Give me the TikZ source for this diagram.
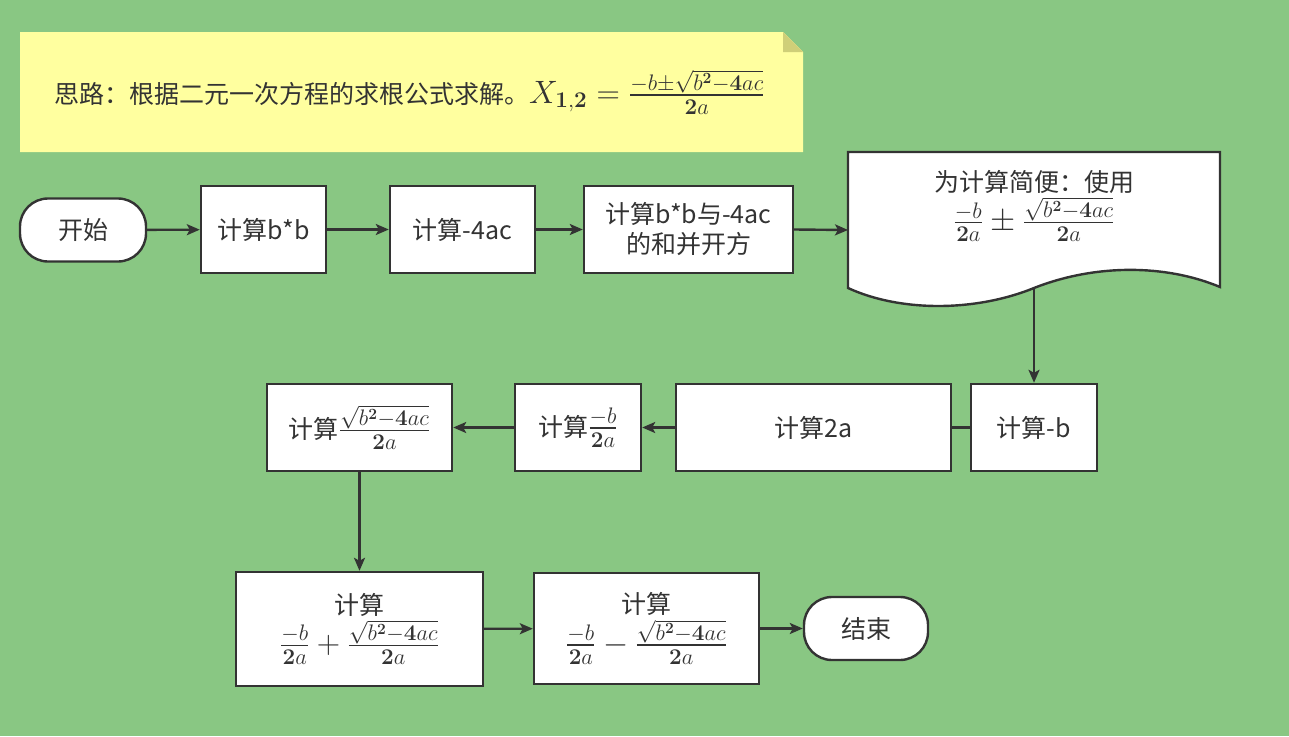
\documentclass[tikz,border=0pt]{standalone}
\usepackage[no-math]{fontspec}
\setmainfont{Noto Sans CJK SC}
\usepackage{amsmath}
\usepackage{graphicx}
\usetikzlibrary{arrows.meta}
\definecolor{meadow}{HTML}{89C783}
\definecolor{memo}{HTML}{FFFF9F}
\definecolor{memofold}{HTML}{CFCF78}
\definecolor{ink}{HTML}{333333}
\newcommand{\bigmath}[1]{\scalebox{1.3}{$#1$}}
\newcommand{\negbfrac}{\frac{-b}{\mathbf{2}a}}
\newcommand{\rootfrac}{\frac{\sqrt{b^{\mathbf{2}}-\mathbf{4}ac}}{\mathbf{2}a}}

\begin{document}
\begin{tikzpicture}[x=1pt,y=-1pt,line width=2.4pt,font=\fontsize{25}{30}\selectfont]
  \tikzstyle{bx}=[rectangle,draw=ink,fill=white,text=ink,align=center,inner sep=0pt,minimum height=87pt]
  \tikzstyle{tm}=[bx,rounded corners=28pt,minimum width=126pt,minimum height=63pt]
  \tikzstyle{ar}=[draw=ink,-{Stealth[length=13pt,width=11pt,inset=3pt]}]
  \fill[meadow] (0,0) rectangle (1289,736);
  \useasboundingbox (0,0) rectangle (1289,736);
  % idea note
  \fill[memo] (20,32) -- (783,32) -- (803,52) -- (803,152) -- (20,152) -- cycle;
  \fill[memofold] (783,32) -- (783,52) -- (803,52) -- cycle;
  \node[anchor=west,inner sep=0pt,text=ink] (idea) at (53,92) {思路：根据二元一次方程的求根公式求解。\bigmath{X_{\mathbf{1,2}}=\frac{-b\pm\sqrt{b^{\mathbf{2}}-\mathbf{4}ac}}{\mathbf{2}a}}};
  % first row
  \node[tm] (start) at (83,230) {开始};
  \node[bx,minimum width=125pt] (bb) at (263.5,229.5) {计算b*b};
  \node[bx,minimum width=145pt] (ac) at (462.5,229.5) {计算-4ac};
  \node[bx,minimum width=209pt] (sum) at (688.5,229.5) {计算b*b与-4ac\\的和并开方};
  % document shape
  \draw[ink,fill=white] (848,152) -- (1220,152) -- (1220,287)
    .. controls (1165,264) and (1095,264) .. (1034,288)
    .. controls (975,312) and (900,312) .. (848,288) -- cycle;
  \node[text=ink,align=center] (doc) at (1034,206) {为计算简便：使用\\[3pt]\bigmath{\negbfrac\pm\rootfrac}};
  \coordinate (docw) at (848,230);
  \coordinate (docb) at (1034,289);
  % second row
  \node[bx,minimum width=126pt] (nb) at (1034,427.5) {计算-b};
  \node[bx,minimum width=275pt] (twoa) at (813.5,427.5) {计算2a};
  \node[bx,minimum width=126pt] (nbfrac) at (578,427.5) {计算\bigmath{\negbfrac}};
  \node[bx,minimum width=185pt] (sq) at (359.5,427.5) {计算\bigmath{\rootfrac}};
  % third row
  \node[bx,minimum width=247pt,minimum height=114pt] (plus) at (359.5,629) {计算\\[3pt]\bigmath{\negbfrac+\rootfrac}};
  \node[bx,minimum width=225pt,minimum height=111pt] (minus) at (646.5,628.5) {计算\\[3pt]\bigmath{\negbfrac-\rootfrac}};
  \node[tm,minimum width=124pt] (stop) at (866,628.5) {结束};
  \draw[ar] (start) -- (bb);
  \draw[ar] (bb) -- (ac);
  \draw[ar] (ac) -- (sum);
  \draw[ar] (sum.east) -- (docw);
  \draw[ar] (docb) -- (nb);
  \draw[draw=ink] (nb) -- (twoa);
  \draw[ar] (twoa) -- (nbfrac);
  \draw[ar] (nbfrac) -- (sq);
  \draw[ar] (sq) -- (plus);
  \draw[ar] (plus) -- (minus);
  \draw[ar] (minus) -- (stop);
\end{tikzpicture}
\end{document}
